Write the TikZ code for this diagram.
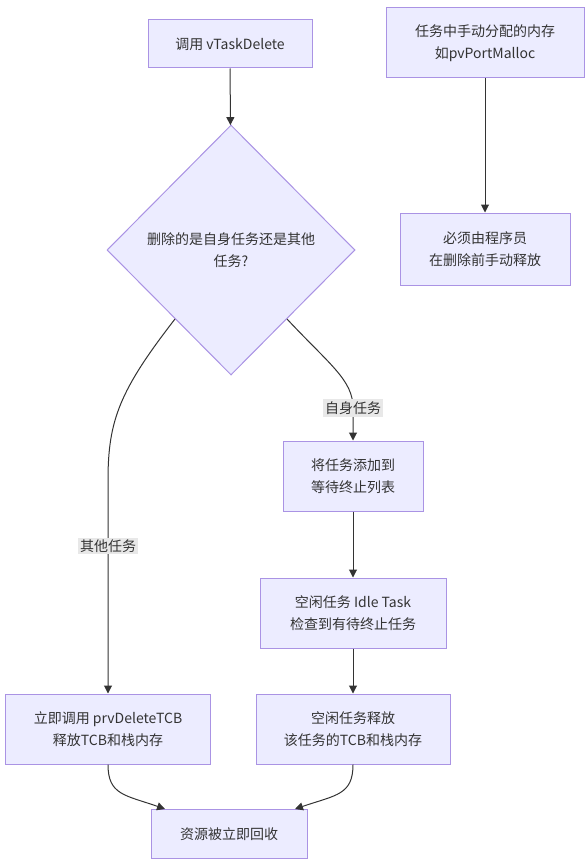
\documentclass[tikz,border=0pt]{standalone}
\usepackage{fontspec}
\newfontfamily\cjk{Noto Sans CJK SC}
\usetikzlibrary{arrows.meta,positioning,shapes.geometric,calc}
\definecolor{boxfill}{HTML}{ECECFF}
\definecolor{boxline}{HTML}{AA93E4}
\definecolor{linkcol}{HTML}{333333}
\definecolor{lblfill}{HTML}{E8E8E8}

\begin{document}
\begin{tikzpicture}[
  x=1pt, y=-1pt,
  every node/.style={font=\cjk\fontsize{14}{22}\selectfont, text=linkcol},
  proc/.style={draw=boxline, fill=boxfill, line width=1pt, align=center, inner sep=0pt, minimum height=70pt},
  decide/.style={draw=boxline, fill=boxfill, line width=1pt, diamond, align=center, inner sep=0pt, minimum width=248pt, minimum height=250pt},
  link/.style={-{Triangle[length=8pt,width=8pt]}, line width=1pt, draw=linkcol},
  lbl/.style={fill=lblfill, inner sep=2pt}
]
\useasboundingbox (0,0) rectangle (586,864);

% left column
\node[proc, minimum width=164pt, minimum height=48pt] (call) at (230,44) {调用 vTaskDelete};
\node[decide] (which) at (231,250) {删除的是自身任务还是其他\\任务?};
\node[proc, minimum width=205pt] (now) at (108,729) {立即调用 prvDeleteTCB\\释放TCB和栈内存};

% self-delete path
\node[proc, minimum width=140pt] (queue) at (353,476) {将任务添加到\\等待终止列表};
\node[proc, minimum width=186pt] (idle) at (353,613) {空闲任务 Idle Task\\检查到有待终止任务};
\node[proc, minimum width=194pt] (idlefree) at (353,729) {空闲任务释放\\该任务的TCB和栈内存};
\node[proc, minimum width=156pt, minimum height=49pt] (done) at (229,834) {资源被立即回收};

% manual memory
\node[proc, minimum width=198pt] (manual) at (485,43) {任务中手动分配的内存\\如pvPortMalloc};
\node[proc, minimum width=170pt, minimum height=72pt] (user) at (485,249) {必须由程序员\\在删除前手动释放};

\draw[link] (call) -- (which);
\draw[link] ($(which.west)!0.55!(which.south)$) .. controls (120,390) and (108,420) .. (108,480)
  -- (108,546) node[lbl] {其他任务} -- (now.north);
\draw[link] ($(which.east)!0.55!(which.south)$) .. controls (330,365) and (353,380) .. (353,408)
  node[lbl] {自身任务} -- (queue.north);
\draw[link] (queue) -- (idle);
\draw[link] (idle) -- (idlefree);
\draw[link] (now.south) .. controls (108,795) and (125,795) .. (165,809);
\draw[link] (idlefree.south) .. controls (353,795) and (336,795) .. (295,809);
\draw[link] (manual) -- (user);
\end{tikzpicture}
\end{document}
